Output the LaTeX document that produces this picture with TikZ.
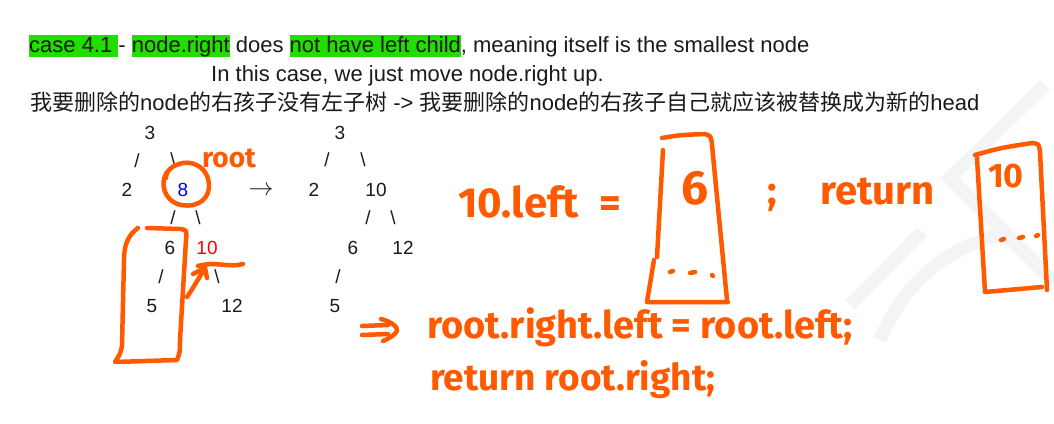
\documentclass[tikz,border=0pt]{standalone}
\usepackage{fontspec}
\setmainfont{Liberation Sans}
\newfontfamily\cjk{Noto Sans CJK SC}
\newfontfamily\handfont{Fira Sans}
\definecolor{ink}{HTML}{1A1A1A}
\definecolor{hlgreen}{HTML}{22DD00}
\definecolor{hand}{HTML}{FF5A00}
\definecolor{wmgray}{HTML}{F3F4F6}
\newcommand\hl[1]{{\setlength\fboxsep{0pt}\colorbox{hlgreen}{\rule[-0.25em]{0pt}{1.0em}#1}}}

\begin{document}
\begin{tikzpicture}[x=1pt, y=-1pt,
    txt/.style={font=\fontsize{22}{26}\selectfont, text=ink, inner sep=0pt},
    tnum/.style={font=\fontsize{19}{22}\selectfont, text=ink, inner sep=0pt},
    hand/.style={draw=hand, line width=4.5pt, line cap=round, line join=round},
    htext/.style={text=hand, font=\handfont\bfseries, inner sep=0pt},
    wm/.style={draw=wmgray, line width=13pt}]
  \useasboundingbox[fill=white] (0,0) rectangle (1054,423);
  % faint watermark on the right
  \draw[wm] (1045,85) -- (950,178) -- (1054,282);
  \draw[wm] (850,305) -- (922,232);
  \draw[wm] (880,340) .. controls (905,280) and (950,245) .. (1010,232);
  % header lines
  \node[txt, anchor=base west] (head1) at (29,52)
    {\hl{case 4.1 }- \hl{node.right} does \hl{not have left child}, meaning itself is the smallest node};
  \node[txt, anchor=base west] (head2) at (211,81) {In this case, we just move node.right up.};
  \node[txt, anchor=base west] (head3) at (30,110)
    {{\cjk 我要删除的}node{\cjk 的右孩子没有左子树} -> {\cjk 我要删除的}node{\cjk 的右孩子自己就应该被替换成为新的}head};
  % tree before
  \node[tnum] (b3) at (150,133) {3};
  \node[tnum] (bl1) at (137,161) {/};
  \node[tnum] (br1) at (173,160) {\textbackslash};
  \node[tnum] (b2) at (127,190) {2};
  \node[tnum, text=blue] (b8) at (183,190) {8};
  \node[tnum] (bl2) at (173,218) {/};
  \node[tnum] (br2) at (198,218) {\textbackslash};
  \node[tnum] (b6) at (170,248) {6};
  \node[tnum, text=red] (b10) at (207,248) {10};
  \node[tnum] (bl3) at (161,277) {/};
  \node[tnum] (br3) at (217,277) {\textbackslash};
  \node[tnum] (b5) at (152,306) {5};
  \node[tnum] (b12) at (232,306) {12};
  \node[tnum, font=\fontsize{25}{28}\selectfont] (arr) at (261,191) {$\rightarrow$};
  % tree after
  \node[tnum] (a3) at (340,133) {3};
  \node[tnum] (al1) at (327,160) {/};
  \node[tnum] (ar1) at (363,160) {\textbackslash};
  \node[tnum] (a2) at (314,190) {2};
  \node[tnum] (a10) at (376,190) {10};
  \node[tnum] (al2) at (368,218) {/};
  \node[tnum] (ar2) at (393,218) {\textbackslash};
  \node[tnum] (a6) at (353,248) {6};
  \node[tnum] (a12) at (403,248) {12};
  \node[tnum] (al3) at (338,277) {/};
  \node[tnum] (a5) at (335,306) {5};
  % hand notes on the left tree
  \draw[hand] (167,172) .. controls (160,182) and (163,201) .. (181,205)
    .. controls (199,208) and (210,198) .. (209,184)
    .. controls (208,169) and (195,161) .. (183,163)
    .. controls (173,165) and (166,170) .. (166,178);
  \node[htext, font=\handfont\bfseries\fontsize{28}{30}\selectfont] (root) at (229,158) {root};
  \draw[hand] (138,228) .. controls (128,235) and (124,245) .. (124,260) -- (122,345)
    .. controls (121,355) and (117,358) .. (115,362) -- (177,360)
    .. controls (180,352) .. (180,340) -- (186,240) .. controls (187,230) .. (180,229) -- (147,228);
  \draw[hand] (187,297) .. controls (195,285) and (200,276) .. (205,268);
  \draw[hand] (193,274) -- (205,268) -- (207,278);
  \draw[hand] (198,266) .. controls (215,261) and (230,268) .. (243,264);
  % first note
  \node[htext, anchor=base west, font=\handfont\bfseries\fontsize{42}{44}\selectfont] (eqa) at (458,217) {10.left\,\,\,=};
  \draw[hand] (662,138) .. controls (680,135) .. (705,134) .. controls (711,136) .. (712,145) -- (727,300);
  \draw[hand] (663,150) -- (657,257);
  \draw[hand] (654,260) -- (647,302) -- (728,302);
  \node[htext, font=\handfont\bfseries\fontsize{48}{50}\selectfont] (six) at (695,188) {6};
  \draw[hand] (670,272) -- (673,271) (690,273) -- (695,272) (712,275) -- (713,276);
  \node[htext, font=\handfont\bfseries\fontsize{40}{42}\selectfont] (semi) at (772,198) {;};
  \node[htext, anchor=base west, font=\handfont\bfseries\fontsize{40}{42}\selectfont] (ret) at (820,204) {return};
  \draw[hand] (975,155) .. controls (1000,148) .. (1032,143) .. controls (1039,144) .. (1040,152) -- (1047,290);
  \draw[hand] (977,158) -- (985,292) -- (1042,287);
  \node[htext, font=\handfont\bfseries\fontsize{34}{36}\selectfont] (ten) at (1006,176) {10};
  \draw[hand] (1001,240) -- (1004,239) (1019,238) -- (1023,237) (1036,236) -- (1038,235);
  % second note
  \draw[hand] (362,326) -- (388,325);
  \draw[hand] (362,335) -- (388,334);
  \draw[hand] (381,319) .. controls (393,322) and (398,328) .. (397,331) .. controls (395,335) and (388,339) .. (383,341);
  \node[htext, anchor=base west, font=\handfont\bfseries\fontsize{38}{40}\selectfont] (code1) at (427,338) {root.right.left = root.left;};
  \node[htext, anchor=base west, font=\handfont\bfseries\fontsize{37}{39}\selectfont] (code2) at (430,390) {return root.right;};
\end{tikzpicture}
\end{document}
